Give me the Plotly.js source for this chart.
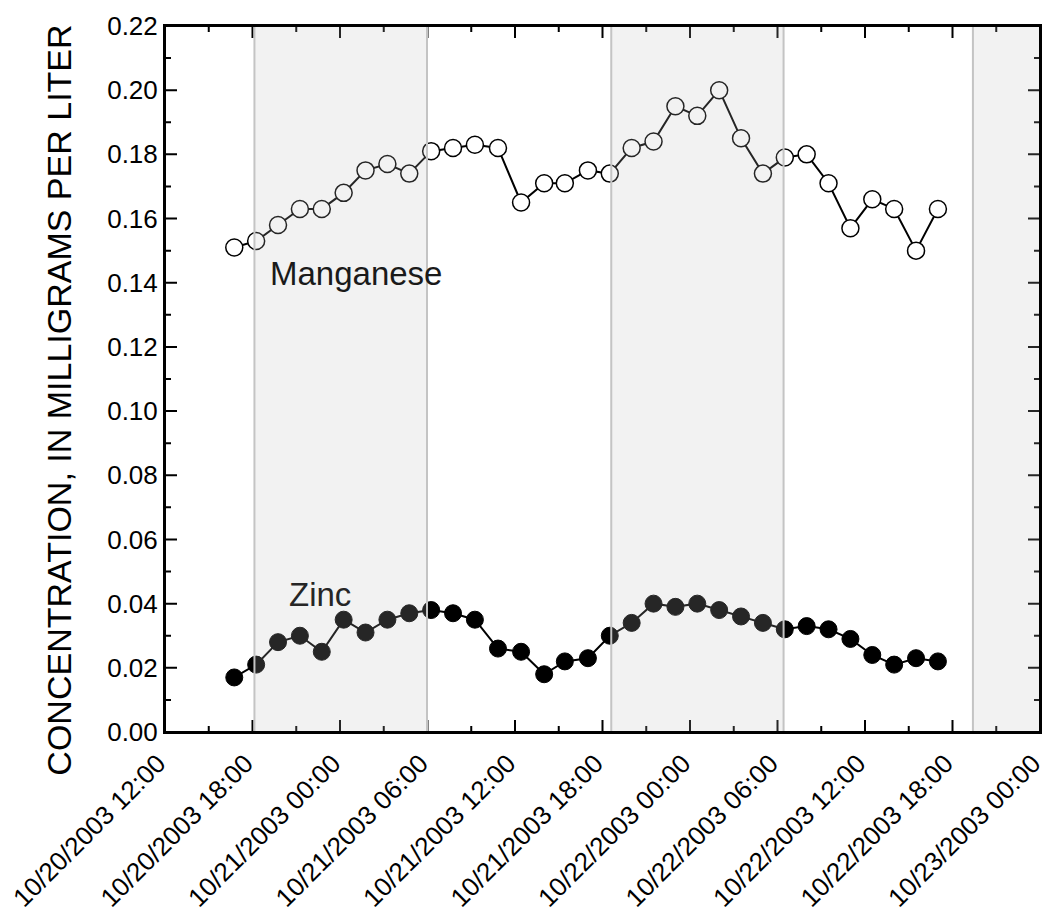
<!DOCTYPE html>
<html>
<head>
<meta charset="utf-8">
<script src="https://cdn.plot.ly/plotly-3.0.1.min.js"></script>
<style>
html,body{margin:0;padding:0;background:#fff;}
#chart{width:1046px;height:922px;}
.js-plotly-plot .plotly .crisp, .crisp { shape-rendering: auto !important; }
</style>
</head>
<body>
<div id="chart"></div>
<script>
// Sample times
var sampleTimes = [
  "2003-10-20 16:45","2003-10-20 18:15","2003-10-20 19:45","2003-10-20 21:15","2003-10-20 22:45",
  "2003-10-21 00:15","2003-10-21 01:45","2003-10-21 03:15","2003-10-21 04:45","2003-10-21 06:15",
  "2003-10-21 07:45","2003-10-21 09:15","2003-10-21 10:50","2003-10-21 12:25","2003-10-21 14:00",
  "2003-10-21 15:25","2003-10-21 17:00","2003-10-21 18:30","2003-10-21 20:00","2003-10-21 21:30",
  "2003-10-21 23:00","2003-10-22 00:30","2003-10-22 02:00","2003-10-22 03:30","2003-10-22 05:00",
  "2003-10-22 06:30","2003-10-22 08:00","2003-10-22 09:30","2003-10-22 11:00","2003-10-22 12:30",
  "2003-10-22 14:00","2003-10-22 15:30","2003-10-22 17:00"
];
// Manganese, mg/L
var manganese = [0.151,0.153,0.158,0.163,0.163,0.168,0.175,0.177,0.174,0.181,0.182,0.183,0.182,0.165,0.171,0.171,0.175,
                 0.174,0.182,0.184,0.195,0.192,0.200,0.185,0.174,0.179,0.180,0.171,0.157,0.166,0.163,0.150,0.163];
// Zinc, mg/L
var zinc = [0.017,0.021,0.028,0.030,0.025,0.035,0.031,0.035,0.037,0.038,0.037,0.035,0.026,0.025,0.018,0.022,0.023,
            0.030,0.034,0.040,0.039,0.040,0.038,0.036,0.034,0.032,0.033,0.032,0.029,0.024,0.021,0.023,0.022];
// Night periods (shaded)
var nightStart = ["2003-10-20 18:08","2003-10-21 18:36","2003-10-22 19:24"];
var nightEnd   = ["2003-10-21 05:58","2003-10-22 06:25","2003-10-23 00:00"];
var xRange = ["2003-10-20 12:00","2003-10-23 00:00:00.001"];
var yRange = [0, 0.22];
var seriesLabels = ["Manganese","Zinc"];
var yTitle = "CONCENTRATION, IN MILLIGRAMS PER LITER";

var traces = [
  {x: sampleTimes, y: manganese, name: seriesLabels[0], type: "scatter", mode: "lines+markers",
   line: {color: "#000", width: 2},
   marker: {size: 17, color: "#fff", line: {color: "#000", width: 1.5}}},
  {x: sampleTimes, y: zinc, name: seriesLabels[1], type: "scatter", mode: "lines+markers",
   line: {color: "#000", width: 2},
   marker: {size: 17, color: "#000", line: {color: "#000", width: 1}}}
];

var shapes = nightStart.map(function(s, i){
  return {type: "rect", xref: "x", yref: "paper", x0: s, x1: nightEnd[i], y0: 0, y1: 1,
          layer: "above", fillcolor: "rgba(190,190,190,0.2)", line: {color: "#c4c4c4", width: 2}};
});
// plot frame
shapes.push({type: "rect", xref: "paper", yref: "paper", x0: 0, x1: 1, y0: 0, y1: 1,
             layer: "above", fillcolor: "rgba(0,0,0,0)", line: {color: "#000", width: 2}});

var fontFam = "Liberation Sans, Arial, sans-serif";
var layout = {
  width: 1046, height: 922,
  margin: {l: 165, r: 6, t: 26, b: 190},
  paper_bgcolor: "#fff", plot_bgcolor: "#fff",
  showlegend: false,
  font: {family: fontFam, color: "#000"},
  xaxis: {
    type: "date", range: xRange, tick0: "2003-10-20 12:00", dtick: 21600000,
    tickformat: "%m/%d/%Y %H:%M", tickangle: -45, ticklabeloverflow: "allow",
    ticklabelshift: -7, ticklabelstandoff: 4,
    ticks: "inside", ticklen: 12, tickwidth: 2, tickcolor: "#000000",
    showline: true, linecolor: "#000000", linewidth: 2, mirror: "allticks",
    showgrid: false, zeroline: false,
    tickfont: {size: 26, family: fontFam, color: "#000"},
    minor: {dtick: 10800000, tick0: "2003-10-20 12:00", ticks: "inside", ticklen: 6, tickwidth: 2, tickcolor: "#000000", showgrid: false}
  },
  yaxis: {
    range: yRange, dtick: 0.02, tick0: 0, tickformat: ".2f",
    ticks: "inside", ticklen: 12, tickwidth: 2, tickcolor: "#000000",
    showline: true, linecolor: "#000000", linewidth: 2, mirror: "allticks",
    showgrid: false, zeroline: false,
    tickfont: {size: 26, family: fontFam, color: "#000"},
    minor: {dtick: 0.01, tick0: 0, ticks: "inside", ticklen: 6, tickwidth: 2, tickcolor: "#000000", showgrid: false}
  },
  shapes: shapes,
  annotations: [
    {text: yTitle, xref: "paper", yref: "paper", x: -0.1206, y: 0.470, xanchor: "center", yanchor: "middle",
     textangle: -90, showarrow: false, font: {size: 34, family: fontFam, color: "#000"}},
    {text: seriesLabels[0], xref: "paper", yref: "paper", x: 0.2186, y: 0.650, xanchor: "center", yanchor: "middle",
     showarrow: false, font: {size: 33, family: fontFam, color: "#1a1a1a"}},
    {text: seriesLabels[1], xref: "paper", yref: "paper", x: 0.1771, y: 0.195, xanchor: "center", yanchor: "middle",
     showarrow: false, font: {size: 33, family: fontFam, color: "#262626"}}
  ]
};

Plotly.newPlot("chart", traces, layout, {displayModeBar: false, staticPlot: true}).then(function(gd){
  gd.querySelectorAll(".crisp").forEach(function(el){
    el.style.setProperty("shape-rendering", "auto", "important");
  });
});
</script>
</body>
</html>
